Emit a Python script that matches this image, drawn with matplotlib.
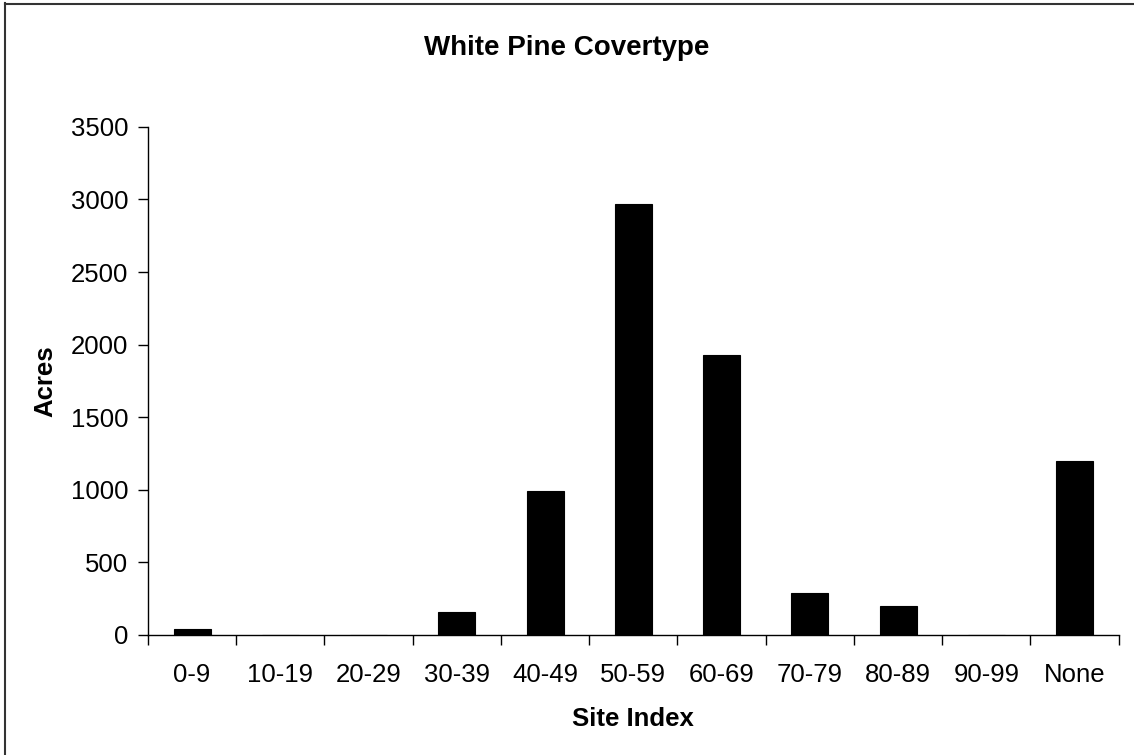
import matplotlib.pyplot as plt
from matplotlib.lines import Line2D

# Site index classes and acreage
classes = ['0-9', '10-19', '20-29', '30-39', '40-49', '50-59',
           '60-69', '70-79', '80-89', '90-99', 'None']
acres = [40, 0, 0, 160, 990, 2970, 1930, 290, 200, 0, 1200]

plt.rcParams['font.family'] = ['Liberation Sans', 'DejaVu Sans']

fig = plt.figure(figsize=(11.34, 7.55), dpi=100)
ax = fig.add_axes([0.1305, 0.159, 0.856, 0.673])

x = list(range(len(classes)))
ax.bar(x, acres, width=0.42, color='black', edgecolor='black', linewidth=0.8)

ax.set_xlim(-0.5, len(classes) - 0.5)
ax.set_ylim(0, 3500)
ax.set_yticks(range(0, 3501, 500))

# category labels centred, tick marks between categories
ax.set_xticks(x)
ax.set_xticklabels(classes)
ax.tick_params(axis='x', which='major', length=0, pad=20, labelsize=18.5)
ax.set_xticks([i - 0.5 for i in range(len(classes) + 1)], minor=True)
ax.tick_params(axis='x', which='minor', length=7, width=1, direction='out')
ax.tick_params(axis='y', length=7, width=1, direction='out', pad=7, labelsize=18.5)

for s in ['top', 'right']:
    ax.spines[s].set_visible(False)
for s in ['left', 'bottom']:
    ax.spines[s].set_linewidth(1)

# title is centred on the whole chart, as in Excel
fig.text(0.5, 1 - 48 / 755, "White Pine Covertype", fontsize=20,
         fontweight='bold', ha='center', va='center')
ax.set_xlabel("Site Index", fontsize=18.5, fontweight='bold', labelpad=14.5)
ax.set_ylabel("Acres", fontsize=18.5, fontweight='bold', labelpad=10)

# chart area border (only left and top edges visible in the original)
fig.add_artist(Line2D([5 / 1134, 5 / 1134], [0, 1 - 3 / 755],
                      transform=fig.transFigure, color='#333333', linewidth=1.5))
fig.add_artist(Line2D([5 / 1134, 1], [1 - 4 / 755, 1 - 4 / 755],
                      transform=fig.transFigure, color='#333333', linewidth=1.5))

fig.savefig('out.png', dpi=100)
